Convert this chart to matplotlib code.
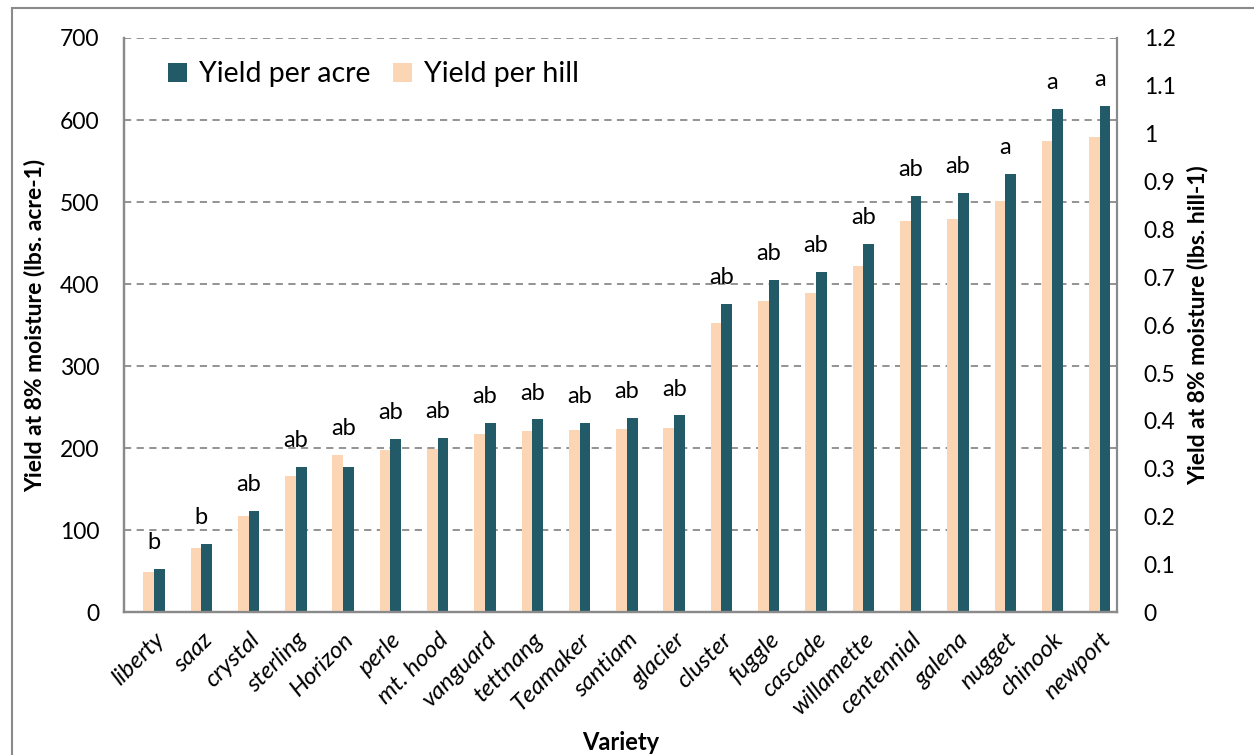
import numpy as np
import matplotlib.pyplot as plt
from matplotlib.patches import Rectangle

plt.rcParams['font.family'] = ['Lato', 'DejaVu Sans']

# hop varieties, sorted by yield
varieties = ['liberty', 'saaz', 'crystal', 'sterling', 'Horizon', 'perle', 'mt. hood',
             'vanguard', 'tettnang', 'Teamaker', 'santiam', 'glacier', 'cluster', 'fuggle',
             'cascade', 'willamette', 'centennial', 'galena', 'nugget', 'chinook', 'newport']
yield_acre = [53, 83, 124, 177, 177, 211, 212, 231, 235, 231, 237, 240,
              376, 405, 415, 449, 508, 511, 534, 613, 617]
yield_hill = [0.085, 0.134, 0.201, 0.285, 0.328, 0.340, 0.342, 0.372, 0.378, 0.380, 0.383,
              0.385, 0.605, 0.651, 0.667, 0.723, 0.818, 0.822, 0.859, 0.985, 0.993]
groups = ['b', 'b', 'ab', 'ab', 'ab', 'ab', 'ab', 'ab', 'ab', 'ab', 'ab', 'ab',
          'ab', 'ab', 'ab', 'ab', 'ab', 'ab', 'a', 'a', 'a']

acre_max, hill_max = 700, 1.2
teal = '#235a68'
peach = '#fbd5b4'
grey = '#8a8a8a'

fig = plt.figure(figsize=(12.54, 7.55), dpi=100)
ax = fig.add_axes([0.0991, 0.189, 0.7919, 0.7607])
ax2 = ax.twinx()

x = np.arange(len(varieties))
w = 0.226
off = 0.129  # peach/teal boundary, right of group centre

ax2.bar(x + off - w, yield_hill, width=w, align='edge', color=peach, label='Yield per hill', zorder=2)
ax.bar(x + off, yield_acre, width=w, align='edge', color=teal, label='Yield per acre', zorder=2)

ax.set_xlim(-0.5, len(varieties) - 0.5)
ax.set_ylim(0, acre_max)
ax2.set_ylim(0, hill_max)
ax.set_yticks(np.arange(0, 701, 100))
ax2.set_yticks(np.arange(0, 13) / 10)
ax2.set_yticklabels(['%g' % (v / 10) for v in range(13)])

ax.set_axisbelow(True)
ax.yaxis.grid(True, linestyle=(0, (4, 3)), color=grey, linewidth=1.3)

# significance letters above each pair
for i, g in enumerate(groups):
    top = max(yield_acre[i], yield_hill[i] * acre_max / hill_max)
    ax.annotate(g, (x[i] + off, top), xytext=(0, 19), textcoords='offset points',
                ha='center', va='center', fontsize=17, color='black')

ax.set_xticks(x + off)
ax.set_xticklabels(varieties, rotation=45, ha='right', rotation_mode='anchor',
                   fontsize=17.5, style='italic')
ax.tick_params(axis='x', length=0, pad=12)
ax.tick_params(axis='y', length=0, pad=18, labelsize=16.5)
ax2.tick_params(axis='y', length=0, pad=19, labelsize=16.5)

for a in (ax, ax2):
    a.spines['top'].set_visible(False)
    for s in ('left', 'right', 'bottom'):
        a.spines[s].set_color(grey)
        a.spines[s].set_linewidth(1.6)
ax.spines['right'].set_visible(False)

ax.set_ylabel('Yield at 8% moisture (lbs. acre-1)', fontsize=16.5, fontweight='bold', labelpad=10)
ax2.set_ylabel('Yield at 8% moisture (lbs. hill-1)', fontsize=16.5, fontweight='bold', labelpad=8)
ax.set_xlabel('Variety', fontsize=17, fontweight='bold', labelpad=9)

h1, l1 = ax.get_legend_handles_labels()
h2, l2 = ax2.get_legend_handles_labels()
ax2.legend(h1 + h2, l1 + l2, loc='upper left', bbox_to_anchor=(0.018, 1.004), ncol=2,
           frameon=False, fontsize=20.5, handlelength=0.68, handleheight=0.68,
           handletextpad=0.4, columnspacing=0.8)

# outer chart frame
fig.patches.append(Rectangle((11.5 / 1254, -0.1), 1.2, 1 - 8.5 / 755 + 0.1,
                             transform=fig.transFigure, fill=False,
                             edgecolor=grey, linewidth=1.5))

fig.savefig('out.png', dpi=100)
